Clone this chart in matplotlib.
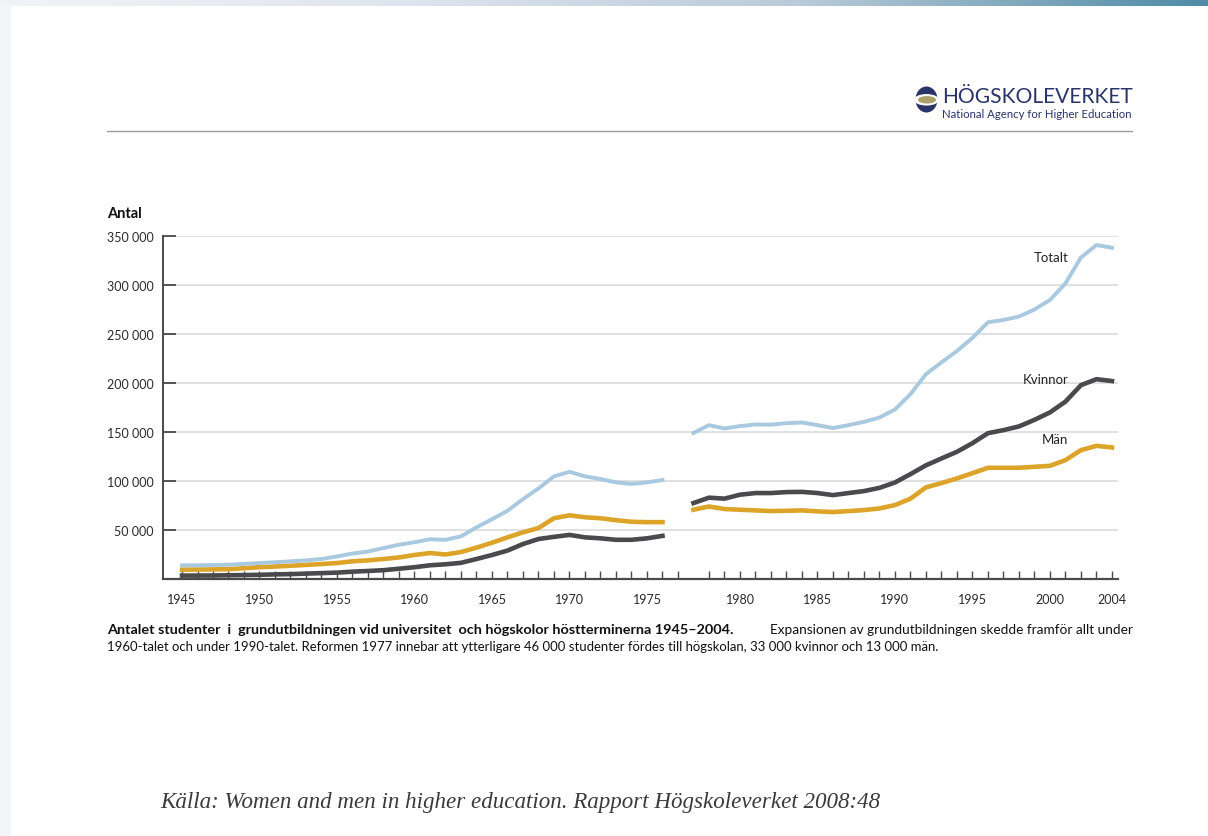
import numpy as np
import matplotlib
matplotlib.use("Agg")
import matplotlib.pyplot as plt
from matplotlib.patches import Ellipse, Rectangle
from matplotlib.colors import LinearSegmentedColormap

# ---------------- data (thousands of students) ----------------
years_a = list(range(1945, 1977))
years_b = list(range(1977, 2005))

totalt_a = [14.0, 14.0, 14.2, 14.6, 15.4, 16.3, 17.1, 18.0, 19.0, 20.4, 23.0, 26.0,
            28.0, 31.6, 35.0, 37.5, 40.5, 40.0, 43.5, 52.7, 61.0, 69.6, 81.5, 92.4,
            104.7, 109.4, 104.7, 102.0, 98.6, 97.0, 98.6, 101.0]
kvinnor_a = [3.5, 3.5, 3.6, 3.8, 4.0, 4.3, 4.7, 5.0, 5.5, 6.0, 6.5, 7.5, 8.2, 9.0,
             10.5, 12.0, 14.0, 15.0, 16.5, 20.4, 24.5, 29.0, 35.7, 40.8, 43.0, 45.0,
             42.5, 41.5, 40.0, 40.0, 41.5, 44.0]
man_a = [9.5, 9.6, 9.8, 10.0, 11.0, 12.0, 12.7, 13.5, 14.4, 15.3, 16.3, 18.0, 19.0,
         20.4, 22.0, 24.5, 26.5, 25.0, 27.5, 32.0, 37.0, 42.5, 47.6, 52.0, 62.0, 65.0,
         63.0, 62.0, 60.0, 58.4, 58.0, 58.0]

totalt_b = [149, 157, 153.6, 156, 157.7, 157.5, 159, 159.7, 157, 154, 157, 160.3,
            164.8, 173, 188.6, 209, 221, 232.7, 246, 262, 264.3, 267.8, 275, 284.7,
            301.7, 328, 340.8, 338]
kvinnor_b = [77.5, 83, 82, 86, 87.7, 87.7, 88.7, 88.9, 87.7, 85.6, 87.7, 89.7, 93,
             98.5, 107, 116, 123, 129.8, 138.6, 148.8, 151.9, 155.7, 162.4, 170, 181,
             197.8, 203.9, 202]
man_b = [70.7, 74, 71.4, 70.7, 70, 69.3, 69.6, 70, 69, 68.3, 69.3, 70.3, 72, 75.4,
         82, 93.5, 97.9, 102.6, 108, 113.5, 113.5, 113.5, 114.5, 115.5, 121.3, 131.5,
         135.9, 134.2]

tick_years = [1945, 1950, 1955, 1960, 1965, 1970, 1975, 1980, 1985, 1990, 1995, 2000, 2004]
y_ticks = [0, 50000, 100000, 150000, 200000, 250000, 300000, 350000]
y_tick_labels = ["", "50 000", "100 000", "150 000", "200 000", "250 000", "300 000", "350 000"]
series_names = ["Totalt", "Kvinnor", "Män"]

# ---------------- helpers ----------------
def pos(year):
    # broken axis: one empty slot between 1976 and 1977
    return year - 1945 if year <= 1976 else year - 1944

W, H = 1208, 837
fig = plt.figure(figsize=(W / 100, H / 100), dpi=100)
fig.patch.set_facecolor("white")
FONT = "Lato"

# background decoration axes in pixel coordinates
bg = fig.add_axes([0, 0, 1, 1], zorder=-10)
bg.set_xlim(0, W)
bg.set_ylim(H, 0)
bg.axis("off")
cmap = LinearSegmentedColormap.from_list("hdr", ["#f1f4f7", "#dfe5ee", "#b9cad8", "#4e8ba6"])
grad = np.linspace(0, 1, 512).reshape(1, -1)
bg.imshow(grad, cmap=cmap, extent=(0, W, 7, 0), aspect="auto")
bg.add_patch(Rectangle((0, 7), 11, H - 7, color="#f3f5f8", lw=0))
bg.plot([107, 1132], [131.5, 131.5], color="#9a9a9a", lw=1.0)

# logo icon
navy = "#2a3468"
bg.add_patch(Ellipse((926.5, 100.5), 22, 26, color=navy, lw=0))
bg.add_patch(Ellipse((926.5, 100.8), 25, 11.5, color="white", lw=0))
bg.add_patch(Ellipse((927, 100.8), 18, 7.5, color="#ad9f68", lw=0))

renderer = fig.canvas.get_renderer()

def fit_text(x, y, s, width_px, size=10, **kw):
    t = fig.text(x / W, 1 - y / H, s, fontsize=size, **kw)
    w = t.get_window_extent(renderer).width
    t.set_fontsize(size * width_px / w)
    return t

fit_text(942, 97, "HÖGSKOLEVERKET", 190, family=FONT, color=navy, va="center", ha="left")
fit_text(942, 114, "National Agency for Higher Education", 190, family=FONT,
         color=navy, va="center", ha="left")

# ---------------- main chart ----------------
ax = fig.add_axes([163 / W, 1 - 580 / H, 955 / W, (580 - 237) / H])
ax.set_xlim(-1.226, 60.39)
ax.set_ylim(0, 350000)

c_tot, c_kv, c_man = "#a8c9df", "#4a4a4c", "#dda42a"
xa = [pos(y) for y in years_a]
xb = [pos(y) for y in years_b]
sc = 1000
for xs, m, k, t in [(xa, man_a, kvinnor_a, totalt_a), (xb, man_b, kvinnor_b, totalt_b)]:
    ax.plot(xs, np.array(m) * sc, color=c_man, lw=3.3, solid_joinstyle="round", zorder=3)
    ax.plot(xs, np.array(k) * sc, color=c_kv, lw=3.3, solid_joinstyle="round", zorder=4)
    ax.plot(xs, np.array(t) * sc, color=c_tot, lw=2.8, solid_joinstyle="round", zorder=5)

for s in ["top", "right"]:
    ax.spines[s].set_visible(False)
ax.spines["left"].set_color("#4a4a4a")
ax.spines["left"].set_linewidth(1.4)
ax.spines["bottom"].set_color("#4a4a4a")
ax.spines["bottom"].set_linewidth(1.6)
ax.spines["left"].set_zorder(6)
ax.spines["bottom"].set_zorder(6)

ax.set_yticks(y_ticks)
ax.set_yticklabels(y_tick_labels, fontfamily=FONT)
ax.yaxis.grid(True, color="#d9d9d9", lw=1.1)
ax.set_axisbelow(True)
ax.tick_params(axis="y", direction="in", length=9.5, width=1.3, color="#4a4a4a",
               labelsize=9, labelcolor="#2a2a2a", pad=7)

xticks = [p for p in range(0, 61) if p != 33]
ax.set_xticks(xticks)
lab_map = {pos(y): str(y) for y in tick_years}
ax.set_xticklabels([lab_map.get(p, "") for p in xticks], fontfamily=FONT)
ax.tick_params(axis="x", direction="in", length=6, width=1.0, color="#4a4a4a",
               labelsize=9, labelcolor="#2a2a2a", pad=10)

# series labels
lbl_y = [totalt_b[-1] * sc - 9000, kvinnor_b[-1] * sc + 2000, man_b[-1] * sc + 8500]
for name, yv in zip(series_names, lbl_y):
    ax.text(57.2, yv, name, ha="right", va="center", fontsize=9.5, family=FONT,
            color="#222222")

fig.text(107 / W, 1 - 214 / H, "Antal", fontsize=10.5, fontweight="bold", family=FONT,
         color="#111111", va="center", ha="left")

# ---------------- caption ----------------
fit_text(107, 630, "Antalet studenter  i  grundutbildningen vid universitet  och högskolor höstterminerna 1945–2004.",
         630, family=FONT, fontweight="bold", color="#111111", va="center", ha="left")
fit_text(770, 630, "Expansionen av grundutbildningen skedde framför allt under", 363,
         family=FONT, color="#111111", va="center", ha="left")
fit_text(107, 647, "1960-talet och under 1990-talet. Reformen 1977 innebar att ytterligare 46 000 studenter fördes till högskolan, 33 000 kvinnor och 13 000 män.",
         830, family=FONT, color="#111111", va="center", ha="left")

fit_text(160, 803, "Källa: Women and men in higher education. Rapport Högskoleverket 2008:48",
         722, family="Liberation Serif", style="italic", color="#3a3a3a", va="center", ha="left")

fig.savefig("out.png", dpi=100, facecolor="white")
